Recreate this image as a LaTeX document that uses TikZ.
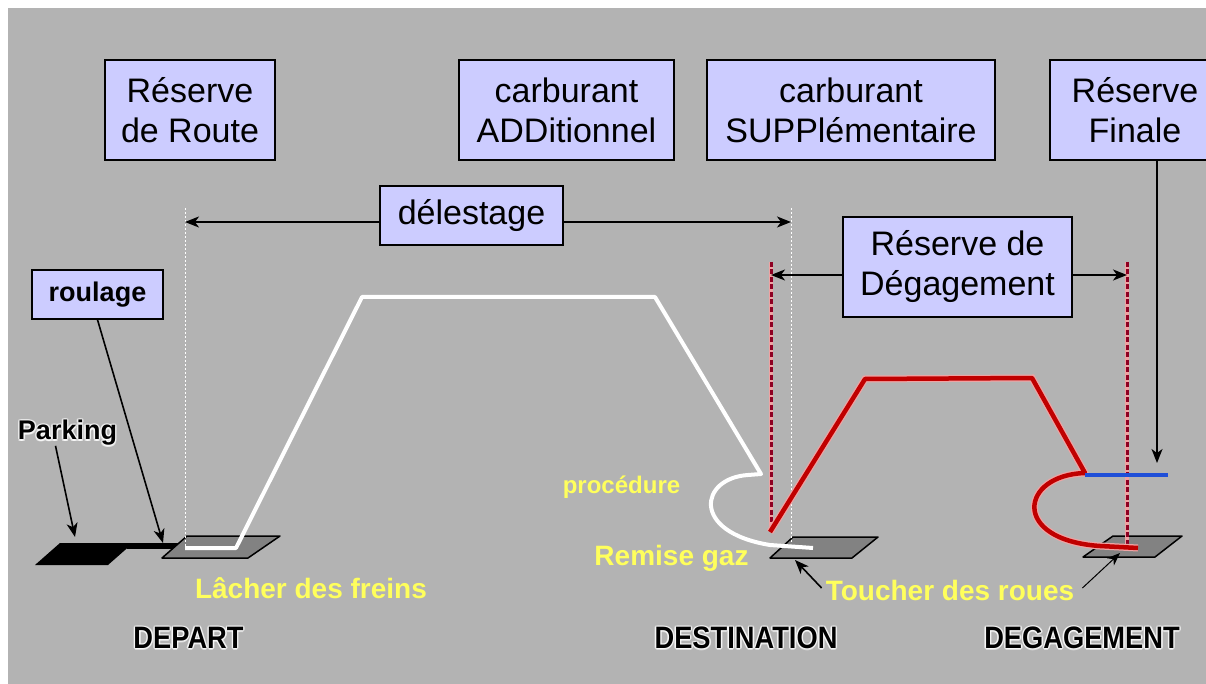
\documentclass[tikz,border=0pt]{standalone}
\usepackage{fontspec}
\setmainfont{Liberation Sans}
\newfontfamily\condsans[FakeStretch=0.88]{Liberation Sans}
\usetikzlibrary{arrows.meta,calc}

\definecolor{panel}{HTML}{B3B3B3}
\definecolor{boxfill}{HTML}{CCCCFF}
\definecolor{labelyellow}{HTML}{FFFF5C}
\definecolor{flightred}{HTML}{C00000}
\definecolor{redhalo}{HTML}{EFA3A3}
\definecolor{dashred}{HTML}{8E0022}
\definecolor{holdblue}{HTML}{1F4FD8}
\definecolor{runway}{HTML}{828282}

% black label with a soft white glow around it
\newcommand\glowlabel[4]{%
  \foreach \k/\dx/\dy in {1/-1.6/0,2/1.6/0,3/0/-1.6,4/0/1.6,5/-1.1/-1.1,6/1.1/1.1,7/-1.1/1.1,8/1.1/-1.1}{
    \node[#4, text=white, opacity=0.55, xshift=\dx pt, yshift=\dy pt] (#1-glow-\k) at (#2) {#3};}
  \node[#4] (#1) at (#2) {#3};}

\begin{document}
\begin{tikzpicture}[x=1pt,y=-1pt,
  infobox/.style={draw=black, line width=1.5pt, fill=boxfill, align=center,
    inner sep=0pt, font=\fontsize{34}{40}\selectfont},
  tag/.style={font=\bfseries\fontsize{28}{30}\selectfont, text=labelyellow, inner sep=0pt},
  sitelabel/.style={font=\condsans\bfseries\fontsize{31}{32}\selectfont, text=black, inner sep=0pt},
  smalllabel/.style={font=\bfseries\fontsize{27}{30}\selectfont, text=black, inner sep=0pt},
  pointer/.style={-{Stealth[length=14pt,width=11pt,inset=4pt]}, line width=1.6pt, draw=black},
  thinpointer/.style={-{Stealth[length=13pt,width=10pt,inset=4pt]}, line width=1pt, draw=black},
  guide/.style={draw=white, line width=1pt, dash pattern=on 2pt off 2pt},
  limit/.style={draw=dashred, line width=3pt, dash pattern=on 5pt off 2.5pt,
    preaction={draw=redhalo, line width=4.5pt, solid}},
  strip/.style={draw=black, line width=1.5pt, fill=runway, line join=round},
  flight/.style={draw=flightred, line width=4.5pt, line join=round,
    preaction={draw=redhalo, line width=7pt}},
  route/.style={draw=white, line width=4pt, line join=round},
]
\useasboundingbox (0,0) rectangle (1206,684);
\clip (0,0) rectangle (1206,684);
\fill[white] (0,0) rectangle (1206,684);
\fill[panel] (8,8) rectangle (1206,684);

% ground: parking, taxiway and the three runways
\fill[black] (60,543) -- (133,543) -- (108,565) -- (35,565) -- cycle;
\fill[black] (127,543) rectangle (185,549);
\draw[strip] (187,536) -- (280,536) -- (248,558) -- (162,558) -- cycle;
\draw[strip] (793,537) -- (878,537) -- (852,558) -- (770,558) -- cycle;
\draw[strip] (1113,536) -- (1182,536) -- (1155,557) -- (1083,557) -- cycle;

% key points
\coordinate (dep-line-top) at (185,208);
\coordinate (dep-line-foot) at (185,548);
\coordinate (dst-line-top) at (791,208);
\coordinate (dst-line-foot) at (791,543);
\coordinate (dst-limit-top) at (771,262);
\coordinate (dst-limit-foot) at (771,532);
\coordinate (alt-limit-top) at (1127,262);
\coordinate (alt-limit-foot) at (1127,548);
\coordinate (taxi-end) at (163,543);
\coordinate (park-spot) at (75,537);
\coordinate (hold-tip) at (1157,463);
\coordinate (dst-touch) at (795,560);
\coordinate (alt-touch) at (1120,553);

% vertical guides
\draw[guide] (dep-line-top) -- (dep-line-foot);
\draw[guide] (dst-line-top) -- (dst-line-foot);
\draw[limit] (dst-limit-top) -- (dst-limit-foot);
\draw[limit] (alt-limit-top) -- (alt-limit-foot);

% flight to destination, missed approach
\draw[route] (185,548) -- (236,548) -- (362,297) -- (655,297) -- (761,474) -- (748,475)
  .. controls (700,478) and (690,532) .. (770,545) -- (813,548);

% diversion to the alternate
\draw[flight] (770,532) -- (865,379) -- (1032,378) -- (1085,473)
  .. controls (1020,475) and (1010,540) .. (1100,546) -- (1138,548);
\draw[holdblue, line width=4.5pt] (1085,475) -- (1168,475);

% fuel boxes
\node[infobox, minimum width=170pt, minimum height=100pt] (route) at (190,110) {Réserve\\de Route};
\node[infobox, minimum width=215pt, minimum height=100pt] (add) at (566.5,110) {carburant\\ADDitionnel};
\node[infobox, minimum width=288pt, minimum height=100pt] (supp) at (851,110) {carburant\\SUPPlémentaire};
\node[infobox, minimum width=170pt, minimum height=100pt] (finale) at (1135,110) {Réserve\\Finale};
\node[infobox, minimum width=183pt, minimum height=59pt] (delestage) at (471.5,215.5) {délestage};
\node[infobox, minimum width=229pt, minimum height=100pt] (degbox) at (957.5,267) {Réserve de\\Dégagement};
\node[draw=black, line width=1.5pt, fill=boxfill, minimum width=131pt, minimum height=49pt,
  inner sep=0pt, font=\bfseries\fontsize{27}{30}\selectfont] (roulage) at (97.5,294.5) {roulage};

% span arrows
\draw[pointer] ([yshift=-6.5pt]delestage.west) -- (dep-line-top |- 0,222);
\draw[pointer] ([yshift=-6.5pt]delestage.east) -- (dst-line-top |- 0,222);
\draw[pointer] ([yshift=-8pt]degbox.west) -- (dst-limit-top |- 0,275);
\draw[pointer] ([yshift=-8pt]degbox.east) -- (alt-limit-top |- 0,275);
\draw[pointer] (finale.south -| hold-tip) -- (hold-tip);

% ground labels
\glowlabel{parking}{67.5,433}{Parking}{smalllabel}
\draw[pointer] ([xshift=-12pt]parking.south) -- (park-spot);
\draw[pointer] (roulage.south) -- (taxi-end);

\node[tag] (lacher) at (311,588) {Lâcher des freins};
\node[tag, font=\bfseries\fontsize{24}{26}\selectfont] (procedure) at (621.5,487) {procédure};
\node[tag] (remise) at (671.5,558) {Remise gaz};
\node[tag] (toucher) at (950,590) {Toucher des roues};
\draw[pointer] ([xshift=-4pt,yshift=2pt]toucher.west) -- (dst-touch);
\draw[thinpointer] ([xshift=8pt,yshift=2pt]toucher.east) -- (alt-touch);

% airfields
\glowlabel{depart}{188.5,638}{DEPART}{sitelabel}
\glowlabel{destination}{746,638}{DESTINATION}{sitelabel}
\glowlabel{degagement}{1082,638}{DEGAGEMENT}{sitelabel}
\end{tikzpicture}
\end{document}
